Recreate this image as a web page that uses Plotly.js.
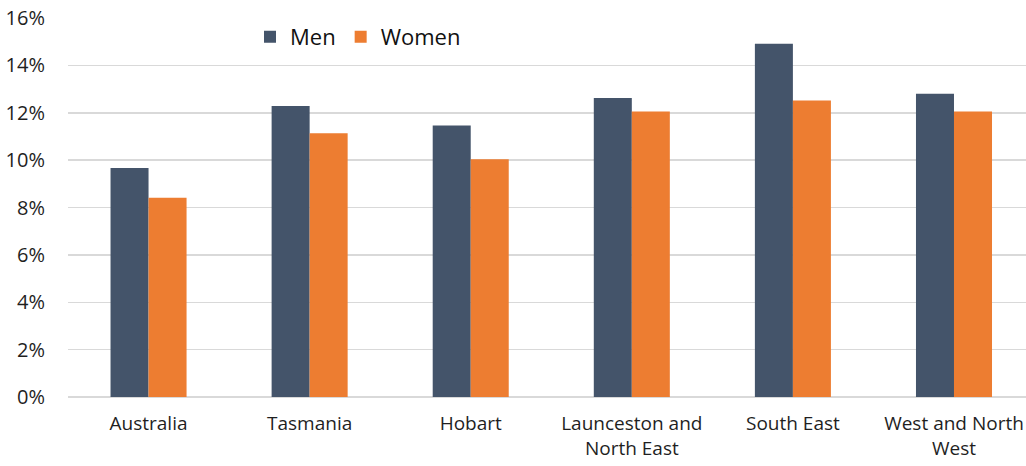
<!DOCTYPE html>
<html>
<head>
<meta charset="utf-8">
<script src="https://cdn.plot.ly/plotly-3.0.1.min.js"></script>
<style>html,body{margin:0;padding:0;background:#fff;}</style>
</head>
<body>
<div id="chart" style="width:1026px;height:466px;"></div>
<script>
const categories = ["Australia", "Tasmania", "Hobart", "Launceston and<br>North East", "South East", "West and North<br>West"];
const men = [0.0967, 0.1228, 0.1146, 0.1262, 0.1491, 0.1280];
const women = [0.0841, 0.1113, 0.1004, 0.1205, 0.1252, 0.1205];
const yTicks = [0, 0.02, 0.04, 0.06, 0.08, 0.10, 0.12, 0.14, 0.16];

const font = "Open Sans, Noto Sans, sans-serif";
const data = [
  {type: "bar", name: "Men", x: categories, y: men, marker: {color: "#44546A"}},
  {type: "bar", name: "Women", x: categories, y: women, marker: {color: "#ED7D31"}}
];
const layout = {
  width: 1026, height: 466,
  margin: {l: 68, r: 0, t: 18, b: 69, pad: 0},
  paper_bgcolor: "#fff", plot_bgcolor: "#fff",
  barmode: "group", bargap: 0.528, bargroupgap: 0,
  font: {family: font, color: "#1f1f1f", size: 19},
  xaxis: {
    type: "category", range: [-0.5, 5.447], showgrid: false, zeroline: false,
    showline: false, ticks: "", tickfont: {size: 19, color: "#1f1f1f"},
    ticklabelstandoff: 13, fixedrange: true
  },
  yaxis: {
    range: [0, 0.16], tickvals: yTicks, tickformat: ".0%",
    showgrid: true, gridcolor: "#d9d9d9", gridwidth: 1.5,
    zeroline: true, zerolinecolor: "#d9d9d9", zerolinewidth: 1.5,
    showline: false, ticks: "", tickfont: {size: 20, color: "#1f1f1f"},
    ticklabelstandoff: 22, fixedrange: true
  },
  showlegend: true,
  legend: {
    orientation: "h", x: 0.19, y: 0.95, xanchor: "left", yanchor: "middle",
    font: {size: 22, color: "#111"}, bgcolor: "rgba(255,255,255,0)",
    itemwidth: 30, traceorder: "normal"
  }
};
Plotly.newPlot("chart", data, layout, {displayModeBar: false, staticPlot: true});
</script>
</body>
</html>
